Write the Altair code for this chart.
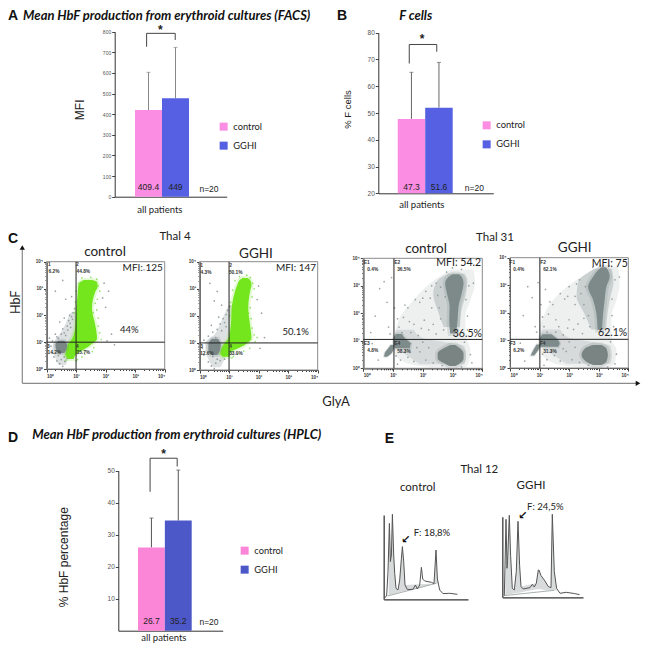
import math
import altair as alt
import pandas as pd

W, H = 634, 635
GROUPS = ["control", "GGHI"]

# ---------- bar panels ----------
A_MEANS = [420, 477]
A_ERR = [603, 724]
A_LABELS = ["409.4", "449"]
A_TICKS = [0, 100, 200, 300, 400, 500, 600, 700, 800]
A_BRACKET_X = [0.43, 0.43, 1.49, 1.49]
A_BRACKET_Y = [727, 792, 792, 760]

B_MEANS = [47.8, 52]
B_ERR = [65.2, 68.9]
B_LABELS = ["47.3", "51.6"]
B_TICKS = [20, 30, 40, 50, 60, 70, 80]
B_BRACKET_X = [0.42, 0.42, 1.42, 1.42]
B_BRACKET_Y = [68.5, 75.6, 75.6, 72.9]

D_MEANS = [26, 34.4]
D_ERR = [35.2, 50.2]
D_LABELS = ["26.7", "35.2"]
D_TICKS = [10, 20, 30, 40, 50]
D_BRACKET_X = [0.45, 0.45, 1.46, 1.46]
D_BRACKET_Y = [43.4, 53.9, 53.9, 51.3]

# ---------- flow cytometry panels: decades of fluorescence (log10) ----------
# blobs: y, left, right
C1_GREEN = [(0.37,.73,.92),(.52,.64,.98),(.89,.70,1.48),(1.14,.87,1.71),(1.64,.98,1.65),(2.26,1.01,1.54),(2.88,1.06,1.65),(3.07,1.07,1.73),(3.25,1.15,1.71),(3.32,1.26,1.54)]
C1_HAZE = [(.15,.4,.65),(.4,.3,.75),(.7,.2,.85),(1.0,.25,.95),(1.3,.45,1.0),(1.7,.65,1.0),(2.1,.80,1.0)]
C1_CORE = [(.6,.42,.6),(.75,.32,.68),(.9,.3,.7),(1.05,.4,.6)]
C1_GRAY = [(.3,1.3),(.35,1.2),(.55,1.5),(.6,1.35),(.7,1.6),(.75,1.8),(.8,1.7),(.85,1.95),(.9,2.1),(.88,1.85),(.72,1.45),(.95,2.25),(.78,2.0),(.82,1.55),(.65,1.25),(.5,1.3),(.4,1.15),(.2,1.05),(.15,.85),(.2,.6),(.25,.45),(.35,.3),(.45,.2),(.5,.35),(.55,.1),(.62,.28),(.4,.5),(.6,.45),(.7,.4),(.1,1.15),(.65,2.6),(.3,2.9),(.55,3.3),(.85,2.7),(.6,1.9),(.45,1.75),(2.1,2.9),(2.0,2.3),(2.2,1.3),(2.05,1.05),(1.9,2.65),(1.95,3.2),(3.3,3.7),(2.3,.9)]
C1_FRINGE = [(1.75,3.1),(1.8,2.9),(1.72,2.6),(1.7,2.2),(1.65,2.45),(1.75,1.6),(1.8,1.35),(1.85,1.1),(1.6,.8),(1.1,3.2),(1.0,2.9),(.98,2.5),(.95,2.1),(1.05,.35),(.65,.32),(1.55,.65),(1.3,.55),(1.2,.45),(1.0,.3),(1.2,3.4),(1.5,3.42),(1.7,3.35),(1.62,2.95),(1.58,2.1),(1.75,1.9)]

C2_GREEN = [(.49,.79,1.01),(.62,.70,1.03),(.93,.81,1.54),(1.17,.98,1.76),(1.67,1.06,1.71),(2.28,1.09,1.65),(2.90,1.20,1.71),(3.15,1.28,1.76),(3.33,1.37,1.71),(3.4,1.46,1.62)]
C2_HAZE = [(.1,.45,.7),(.4,.3,.85),(.7,.2,.95),(1.0,.2,1.0),(1.3,.5,1.05),(1.7,.7,1.05),(2.2,.9,1.1),(2.4,1.0,1.15)]
C2_CORE = [(.55,.4,.6),(.75,.3,.7),(.95,.3,.72),(1.15,.42,.62)]
C2_GRAY = [(.3,1.25),(.45,1.4),(.6,1.5),(.7,1.7),(.8,1.9),(.9,2.05),(.95,2.2),(1.02,2.35),(.85,1.75),(.75,1.45),(.55,1.2),(.15,1.1),(.1,.8),(.15,.55),(.3,.3),(.4,.15),(.5,.05),(.55,.25),(.6,.4),(.7,.35),(.85,.4),(.45,.5),(.75,2.4),(.6,2.9),(.5,2.55),(.35,3.2),(2.0,3.1),(2.1,2.1),(2.2,1.2),(1.95,2.6),(2.05,.8),(.9,1.6),(.65,1.95),(.4,1.65)]
C2_FRINGE = [(1.8,3.2),(1.85,3.0),(1.78,2.7),(1.72,2.3),(1.75,1.9),(1.78,1.55),(1.85,1.3),(1.88,1.05),(1.7,.8),(1.2,3.3),(1.12,2.95),(1.05,2.5),(1.02,2.0),(1.1,.45),(.65,.6),(1.5,.7),(1.3,.6),(1.15,.5),(1.35,3.45),(1.6,3.5),(1.72,3.42),(1.68,2.9),(1.66,2.1),(1.95,1.2)]

C3_HAZE = [(.04,2.25,3.43),(.18,1.46,3.54),(.67,1.0,3.6),(1.05,1.03,3.48),(1.27,1.07,3.43),(1.88,1.24,3.43),(2.48,1.69,3.6),(3.09,2.25,3.76),(3.58,2.92,3.7)]
C3_MID = [(.15,1.9,3.4),(.45,1.5,3.45),(.8,1.05,3.4),(1.1,1.05,2.0),(1.4,1.1,1.7)]
C3_WEDGE = [(1.5,2.7,3.25),(2.1,2.5,3.3),(2.7,2.35,3.45),(3.2,2.5,3.5),(3.45,2.85,3.4)]
C3_TOP = [(1.27,2.92,3.12),(1.76,2.89,3.17),(2.24,2.90,3.20),(2.73,2.81,3.31),(3.09,2.75,3.37),(3.33,2.87,3.31),(3.42,3.0,3.2)]
C3_LOW = [(.08,2.9,3.1),(.18,2.72,3.25),(.36,2.50,3.37),(.55,2.50,3.37),(.73,2.70,3.25),(.85,2.92,3.10)]
C3_LEFT = [(.73,1.07,1.57),(.9,1.02,1.58),(1.09,1.02,1.4),(1.25,1.1,1.3)]
C3_DIAG = [(.42,.7,.8),(.55,.72,.95),(.7,.82,1.02),(.85,.92,1.05)]
C3_PTS = [(1.2,1.5),(1.35,1.85),(1.5,2.2),(1.7,1.6),(1.9,2.4),(2.1,2.8),(2.3,2.2),(2.45,3.1),(2.5,2.65),(2.6,1.8),(2.2,1.4),(1.6,1.3),(1.85,1.2),(2.05,1.75),(2.35,1.6),(2.55,2.2),(2.7,1.4),(2.75,2.6),(2.3,3.0),(2.0,2.55),(1.75,2.5),(1.4,2.3),(1.15,1.8),(1.3,1.3),(1.5,.4),(1.7,.25),(1.9,.6),(2.1,.3),(2.2,.75),(1.4,.6),(1.25,.3),(1.1,.45),(2.35,.2),(2.0,.95),(1.6,.9),(1.8,.75),(3.5,1.4),(3.45,2.5),(3.55,3.0),(3.6,.5),(3.65,.2),(3.4,.95),(3.5,1.9),(3.7,3.1),(.8,2.4),(.55,2.9),(.85,1.5),(.4,1.9),(.9,1.25),(.7,3.15),(.95,3.3),(2.8,3.5),(3.0,3.65),(3.3,3.6),(1.05,2.2),(1.15,.15),(.3,.9),(.5,.3),(.25,1.3),(2.65,.1),(3.3,.05),(2.45,1.25),(1.95,1.45),(1.55,1.7),(2.25,2.55),(2.6,2.95)]

C4_HAZE = [(.02,2.3,3.31),(.17,1.46,3.54),(.65,1.01,3.6),(1.04,.96,3.43),(1.86,1.12,3.43),(2.47,1.46,3.6),(3.07,2.08,3.71),(3.67,2.98,3.65)]
C4_MID = [(.15,1.9,3.4),(.45,1.5,3.45),(.8,1.05,3.4),(1.1,1.0,2.0),(1.4,1.1,1.7)]
C4_WEDGE = [(1.4,2.75,3.25),(2.0,2.5,3.3),(2.6,2.25,3.4),(3.1,2.3,3.5),(3.6,2.85,3.45)]
C4_TOP = [(1.38,2.96,3.11),(1.98,2.92,3.15),(2.47,2.81,3.20),(2.95,2.64,3.26),(3.31,2.81,3.37),(3.55,2.98,3.31),(3.65,3.08,3.25)]
C4_LOW = [(.11,2.81,3.09),(.23,2.58,3.26),(.47,2.42,3.31),(.71,2.53,3.26),(.83,2.81,3.09)]
C4_LEFT = [(.77,1.01,1.63),(.9,1.01,1.68),(1.04,1.01,1.6),(1.22,1.1,1.4)]
C4_DIAG = [(.45,.7,.82),(.53,.73,.87),(.65,.79,.96),(.85,.9,1.02)]
C4_PTS = [(1.15,1.5),(1.3,1.95),(1.45,2.3),(1.65,1.5),(1.85,2.5),(2.0,2.95),(2.2,2.3),(2.35,3.2),(2.4,2.7),(2.5,1.8),(2.15,1.4),(1.55,1.3),(1.8,1.2),(2.0,1.75),(2.3,1.6),(2.5,2.3),(2.7,1.5),(2.65,1.9),(2.25,3.05),(1.95,2.6),(1.7,2.7),(1.35,2.4),(1.1,1.85),(1.25,1.3),(1.5,.45),(1.7,.25),(1.9,.6),(2.1,.3),(2.2,.75),(1.4,.6),(1.25,.3),(1.1,.5),(2.35,.2),(2.0,.95),(1.6,.9),(1.8,.7),(3.5,1.5),(3.45,2.5),(3.55,3.2),(3.6,.5),(3.55,.15),(3.4,.95),(3.45,1.9),(3.7,3.3),(.75,2.55),(.6,2.95),(.85,1.5),(.45,1.9),(.9,1.3),(.95,3.1),(2.8,3.65),(3.05,3.72),(3.35,3.7),(1.05,2.3),(1.15,.1),(.35,.9),(.5,.25),(2.65,.1),(3.3,.03),(2.45,1.25),(1.95,1.45),(1.55,1.75),(2.2,2.6),(2.55,2.95),(1.2,2.85)]

# ---------- HPLC chromatograms: retention, absorbance ----------
E1_TRACE = [(1.7,1.7),(3,4.3),(4.3,27.7),(5.7,76),(6.7,37.7),(7.7,44.3),(8.7,85),(10,44.3),(11,26),(12.3,11),(14.3,9.3),(16,19.3),(17.7,41),(18.7,52.7),(20,37.7),(21.3,14.3),(23.7,9.7),(29.3,10),(31.7,14.3),(33.7,10.3),(36,14.3),(37.7,32),(39,20.3),(41,18.3),(47.7,17),(50.3,15.7),(52.3,49.3),(53.7,20.3),(56,9.3),(59.3,5.7),(66,6),(73.7,5)]
E1_BASE = [(3.7,3.3),(52.7,16)]
E1_SHADE = [(5,50,4),(5.7,76,4),(6.7,37.7,4.5),(7.7,44,5),(8.7,85,5),(10,44,5),(11,26,5.5),(12.3,11,6),(14.3,9.3,6.5),(16,19,7),(17.7,41,7.5),(18.7,52.7,7.7),(20,37.7,8),(21.3,14.3,8.3),(50.3,15.7,15.4),(52.3,49,16),(53.7,20.3,16),(55,12,12)]
E2_TRACE = [(2,1.7),(2.7,32),(3.7,78),(4.7,29),(5.3,37),(7,82),(8.3,42),(10,9),(12,7.3),(14,25.7),(15.7,76),(17.3,32),(18.7,10.7),(21,8.3),(27.7,9.7),(30,13),(32,10.3),(34,14),(36,27.3),(36.7,27.3),(38.7,21.7),(42.7,16.3),(46,10.7),(48.7,9.7),(50,83),(52,25.7),(54.3,9),(57.7,4),(64,5),(72.3,3.7),(77.3,2.7)]
E2_BASE = [(2,1.7),(52,7)]
E2_SHADE = [(3,50,2),(3.7,78,2),(4.7,29,2.5),(5.3,37,2.5),(7,82,3),(8.3,42,3),(10,9,3.5),(12,7.3,4),(14,25.7,4),(15.7,76,4.5),(17.3,32,4.5),(18.7,10.7,5),(34,14,8),(36,27.3,8),(38.7,21.7,8),(42.7,16.3,7),(46,10.7,7),(48.7,9.7,7),(50,83,7),(52,25.7,7),(54.3,9,6.5)]

ONE = pd.DataFrame({"k": [0]})
LATO = "Lato"
ARIAL = "Liberation Sans"
layers = []


def text(s, x, y, size=9.0, font=LATO, weight="normal", style="normal", color="#222", angle=0, align="center"):
    layers.append(
        alt.Chart(ONE)
        .mark_text(text=s, fontSize=size, font=font, fontWeight=weight, fontStyle=style, color=color,
                   angle=angle, align=align, baseline="middle")
        .encode(x=alt.value(x - 8), y=alt.value(y - 8))
    )


def bar_panel(means, errs, labels, ticks, bx, by, dom, ax_x, ax_r, y_px, bars, pink, blue, tick_size,
              y_title, y_title_size, y_title_pos, xt_pos, lab_y, err_color, legend_xy):
    step = (bars[1] - bars[0]) / 2
    sx = alt.Scale(type="band", domain=GROUPS, range=[bars[0] - 8, bars[1] - 8], paddingInner=0, paddingOuter=0)
    sy = alt.Scale(domain=dom, range=[y_px[0] - 8, y_px[1] - 8], nice=False, zero=False)
    df = pd.DataFrame({"g": GROUPS, "m": means, "e": errs, "t": labels, "b": [dom[0]] * 2})
    x_axis = alt.Axis(orient="bottom", offset=y_px[0] - 8 - H, ticks=False, labels=False, domainColor="#333", domainWidth=1,
                      grid=False, title="all patients", titleFont=LATO, titleFontSize=9.5, titleFontWeight="normal",
                      titleColor="#222", titleX=xt_pos[0] - 8, titleY=xt_pos[1] - y_px[0], titleBaseline="middle", titleAlign="center")
    y_axis = alt.Axis(orient="left", offset=-(ax_x - 8), values=ticks, tickSize=3, tickColor="#444", domainColor="#333", domainWidth=1,
                      grid=False, labelFont=ARIAL, labelFontSize=tick_size, labelColor="#555", labelPadding=1,
                      title=y_title, titleFont=ARIAL, titleFontSize=y_title_size, titleFontWeight="normal", titleColor="#222",
                      titleAngle=270, titleX=y_title_pos[0] - ax_x, titleY=y_title_pos[1] - 8, titleBaseline="middle", titleAlign="center")
    legend = alt.Legend(orient="none", legendX=legend_xy[0] - 8, legendY=legend_xy[1] - 8, title=None, symbolType="square",
                        symbolSize=64, symbolStrokeWidth=0, labelFont=LATO, labelFontSize=9.3, labelColor="#222",
                        labelOffset=5, rowPadding=9, padding=0)
    layers.append(alt.Chart(df).mark_rule(color=err_color, strokeWidth=1).encode(
        x=alt.X("g:N", scale=sx, axis=None), y=alt.Y("m:Q", scale=sy, axis=None), y2="e:Q"))
    layers.append(alt.Chart(df).mark_tick(color=err_color, size=4, thickness=1, orient="horizontal").encode(
        x=alt.X("g:N", scale=sx, axis=None), y=alt.Y("e:Q", scale=sy, axis=None)))
    layers.append(alt.Chart(df).mark_bar().encode(
        x=alt.X("g:N", scale=sx, axis=None, sort=GROUPS), y=alt.Y("m:Q", scale=sy, axis=y_axis), y2="b:Q",
        color=alt.Color("g:N", scale=alt.Scale(domain=GROUPS, range=[pink, blue]), legend=legend)))
    layers.append(alt.Chart(df).mark_text(font=ARIAL, fontSize=8.5, color="#222", baseline="middle").encode(
        x=alt.X("g:N", scale=sx, axis=None), y=alt.value(lab_y - 8), text="t:N"))
    br = pd.DataFrame({"x": bx, "y": by, "o": range(4)})
    sbx = alt.Scale(domain=[(ax_x - bars[0]) / step, (ax_r - bars[0]) / step], range=[ax_x - 8, ax_r - 8], nice=False, zero=False)
    layers.append(alt.Chart(br).mark_line(color="#444", strokeWidth=1).encode(
        x=alt.X("x:Q", scale=sbx, axis=x_axis), y=alt.Y("y:Q", scale=sy, axis=None), order="o:Q"))


def blob(rows, sx, sy, color, opacity=1.0, halo=0):
    df = pd.DataFrame(rows, columns=["y", "l", "r"])
    props = dict(orient="horizontal", color=color, opacity=opacity, interpolate="monotone")
    if halo:
        props.update(stroke=color, strokeWidth=halo, strokeOpacity=0.2)
    layers.append(alt.Chart(df).mark_area(**props).encode(
        y=alt.Y("y:Q", scale=sy, axis=None), x=alt.X("l:Q", scale=sx, axis=None), x2="r:Q"))


def dots(rows, sx, sy, color, size=3, opacity=0.85):
    df = pd.DataFrame(rows, columns=["x", "y"])
    layers.append(alt.Chart(df).mark_circle(color=color, size=size, opacity=opacity).encode(
        x=alt.X("x:Q", scale=sx, axis=None), y=alt.Y("y:Q", scale=sy, axis=None)))


MINOR = [n + math.log10(k) for n in range(4) for k in range(2, 10)]
POW = "['10⁰','10¹','10²','10³','10⁴'][datum.value]"


def facs_frame(xr, yr, gate_x, gate_y, sx, sy):
    box = pd.DataFrame({"a": [0], "b": [4], "c": [0], "d": [4], "g": [gate_x], "h": [gate_y]})
    ax_x = dict(orient="bottom", offset=yr[0] - 8 - H, grid=False, title=None, domainColor="#444", tickColor="#444")
    ax_y = dict(orient="left", offset=-(xr[0] - 8), grid=False, title=None, domainColor="#444", tickColor="#444")
    lab = dict(labelFont=ARIAL, labelFontSize=4.5, labelFontWeight="bold", labelColor="#333", labelPadding=1, labelExpr=POW, values=[0, 1, 2, 3, 4], tickSize=3)
    layers.append(alt.Chart(box).mark_rect(fill="transparent", stroke="#8a8a8a", strokeWidth=1).encode(
        x=alt.X("a:Q", scale=sx, axis=alt.Axis(**ax_x, **lab)), x2="b:Q",
        y=alt.Y("c:Q", scale=sy, axis=alt.Axis(**ax_y, **lab)), y2="d:Q"))
    layers.append(alt.Chart(box).mark_rect(opacity=0).encode(
        x=alt.X("a:Q", scale=sx, axis=alt.Axis(**ax_x, values=MINOR, tickSize=1.5, labels=False)), x2="b:Q",
        y=alt.Y("c:Q", scale=sy, axis=alt.Axis(**ax_y, values=MINOR, tickSize=1.5, labels=False)), y2="d:Q"))
    layers.append(alt.Chart(box).mark_rule(color="#222", strokeWidth=1).encode(
        x=alt.X("g:Q", scale=sx, axis=None), y=alt.Y("c:Q", scale=sy, axis=None), y2="d:Q"))
    layers.append(alt.Chart(box).mark_rule(color="#222", strokeWidth=1).encode(
        y=alt.Y("h:Q", scale=sy, axis=None), x=alt.X("a:Q", scale=sx, axis=None), x2="b:Q"))


def scales(xr, yr):
    return (alt.Scale(domain=[0, 4], range=[xr[0] - 8, xr[1] - 8], nice=False, zero=False),
            alt.Scale(domain=[0, 4], range=[yr[0] - 8, yr[1] - 8], nice=False, zero=False))


def green_panel(xr, yr, gate, green, haze, core, gray, fringe):
    sx, sy = scales(xr, yr)
    blob(haze, sx, sy, "#b4bcbc", 0.45)
    dots(gray, sx, sy, "#8b9494")
    dots(fringe, sx, sy, "#86dc5c")
    blob(green, sx, sy, "#74e61e", 1.0, 4)
    blob(core, sx, sy, "#7b8686", 1.0, 4)
    facs_frame(xr, yr, gate[0], gate[1], sx, sy)


def gray_panel(xr, yr, gate, haze, mid, wedge, top, low, left, diag, pts):
    sx, sy = scales(xr, yr)
    blob(haze, sx, sy, "#c6cccc", 0.3)
    blob(mid, sx, sy, "#a9b2b2", 0.35)
    blob(wedge, sx, sy, "#a0aaaa", 0.45)
    dots(pts, sx, sy, "#8d9696")
    blob(top, sx, sy, "#7a8787", 0.95, 5)
    blob(low, sx, sy, "#75807f", 0.95, 5)
    blob(left, sx, sy, "#7a8787", 0.95, 3)
    blob(diag, sx, sy, "#7a8787", 0.95, 2)
    facs_frame(xr, yr, gate[0], gate[1], sx, sy)


def chromatogram(trace, base, shade, xr, yr):
    span = xr[1] - xr[0]
    sx = alt.Scale(domain=[0, span], range=[xr[0] - 8, xr[1] - 8], nice=False, zero=False)
    sy = alt.Scale(domain=[0, yr[0] - yr[1]], range=[yr[0] - 8, yr[1] - 8], nice=False, zero=False)
    sh = pd.DataFrame(shade, columns=["x", "t", "b"])
    layers.append(alt.Chart(sh).mark_area(color="#d8dbdb").encode(
        x=alt.X("x:Q", scale=sx, axis=None), y=alt.Y("t:Q", scale=sy, axis=None), y2="b:Q"))
    bs = pd.DataFrame(base, columns=["x", "y"])
    layers.append(alt.Chart(bs).mark_line(color="#aab0b0", strokeWidth=1).encode(
        x=alt.X("x:Q", scale=sx, axis=None), y=alt.Y("y:Q", scale=sy, axis=None)))
    tr = pd.DataFrame(trace, columns=["x", "y"])
    ax_x = alt.Axis(orient="bottom", offset=yr[0] - 8 - H, ticks=False, labels=False, grid=False, title=None, domainColor="#333", domainWidth=1.2)
    ax_y = alt.Axis(orient="left", offset=-(xr[0] - 8), ticks=False, labels=False, grid=False, title=None, domainColor="#555", domainWidth=1.5)
    layers.append(alt.Chart(tr).mark_line(color="#555", strokeWidth=1).encode(
        x=alt.X("x:Q", scale=sx, axis=ax_x), y=alt.Y("y:Q", scale=sy, axis=ax_y)))


# ---------- panels ----------
bar_panel(A_MEANS, A_ERR, A_LABELS, A_TICKS, A_BRACKET_X, A_BRACKET_Y, [0, 800], 114.7, 226.7, (196.7, 31.7), (135, 189),
          "#fb8ee2", "#5560e2", 5, "MFI", 12, (79.3, 109.3), (159.3, 209), 187.3, "#888", (219, 122))
bar_panel(B_MEANS, B_ERR, B_LABELS, B_TICKS, B_BRACKET_X, B_BRACKET_Y, [20, 80], 378.3, 493.3, (193.3, 32.7), (397.7, 452.7),
          "#fb8ee2", "#5560e2", 6.5, "% F cells", 9.5, (347.7, 109), (421.3, 204), 186.5, "#666", (482, 120.7))
bar_panel(D_MEANS, D_ERR, D_LABELS, D_TICKS, D_BRACKET_X, D_BRACKET_Y, [0, 50], 118.3, 222.7, (630.7, 470.7), (138, 191.7),
          "#fb86d8", "#4d58c8", 6.5, "% HbF percentage", 12, (63.3, 556.7), (163.3, 637.5), 620.5, "#555", (240, 546))

green_panel((46.5, 164.7), (369, 261.7), (1, 1), C1_GREEN, C1_HAZE, C1_CORE, C1_GRAY, C1_FRINGE)
green_panel((199.5, 317.7), (370, 261.7), (1, 1), C2_GREEN, C2_HAZE, C2_CORE, C2_GRAY, C2_FRINGE)
gray_panel((363.3, 482.3), (368.3, 258.3), (1.03, 1.05), C3_HAZE, C3_MID, C3_WEDGE, C3_TOP, C3_LOW, C3_LEFT, C3_DIAG, C3_PTS)
gray_panel((510, 628.3), (368, 257.7), (1.01, 1.04), C4_HAZE, C4_MID, C4_WEDGE, C4_TOP, C4_LOW, C4_LEFT, C4_DIAG, C4_PTS)

chromatogram(E1_TRACE, E1_BASE, E1_SHADE, (383.7, 468), (599.3, 515))
chromatogram(E2_TRACE, E2_BASE, E2_SHADE, (502.3, 583), (597.3, 516.7))

# C: large axes with arrowheads
layers.append(alt.Chart(ONE).mark_rule(color="#8a8a8a", strokeWidth=1.2).encode(
    x=alt.value(22.3 - 8), y=alt.value(248 - 8), y2=alt.value(383.3 - 8)))
layers.append(alt.Chart(ONE).mark_rule(color="#8a8a8a", strokeWidth=1.2).encode(
    x=alt.value(22.3 - 8), x2=alt.value(637 - 8), y=alt.value(383.3 - 8)))
layers.append(alt.Chart(ONE).mark_point(shape="triangle-up", filled=True, color="#111", size=28, opacity=1).encode(
    x=alt.value(22.3 - 8), y=alt.value(247.5 - 8)))
layers.append(alt.Chart(ONE).mark_point(shape="triangle-right", filled=True, color="#111", size=28, opacity=1).encode(
    x=alt.value(638 - 8), y=alt.value(383.3 - 8)))

# ---------- text ----------
T = dict(font=LATO, weight="bold", style="italic", color="#111")
text("A", 8, 16, 14, ARIAL, "bold", align="left", color="#111")
text("B", 342, 16, 14, ARIAL, "bold", color="#111")
text("C", 8, 239, 14, ARIAL, "bold", align="left", color="#111")
text("D", 8, 438, 14, ARIAL, "bold", align="left", color="#111")
text("E", 389.3, 439.3, 14, ARIAL, "bold", color="#111")
text("Mean HbF production from erythroid cultures (FACS)", 166.7, 15.5, 13, **T)
text("F cells", 415.7, 15.5, 13, **T)
text("Mean HbF production from erythroid cultures (HPLC)", 176.7, 435, 13, **T)
for s, x, y in [("*", 160.3, 30), ("*", 422, 39), ("*", 163.7, 454)]:
    text(s, x, y, 12, ARIAL, "bold", color="#222")
for s, x, y in [("n=20", 209, 188.7), ("n=20", 474.3, 187.7), ("n=20", 209, 622)]:
    text(s, x, y, 8.5, ARIAL)

for s, x, y, z in [("Thal 4", 175, 237.3, 11.5), ("control", 105, 252.3, 13.5), ("GGHI", 256, 253.7, 13.5),
                   ("Thal 31", 495, 237.7, 11.5), ("control", 426, 249.3, 13.5), ("GGHI", 574.7, 247.7, 13.5),
                   ("MFI: 125", 142.7, 267.7, 10), ("44%", 129.3, 330.3, 9.5), ("MFI: 147", 296, 267.7, 10), ("50.1%", 295.7, 331.7, 9.5),
                   ("MFI: 54.2", 458.7, 263.3, 10.5), ("36.5%", 467.3, 333.7, 10.5), ("MFI: 75", 609.7, 264, 10.5), ("62.1%", 612.7, 333, 10.5),
                   ("GlyA", 336, 401.7, 13),
                   ("Thal 12", 479.3, 470, 11.5), ("control", 417.7, 487.7, 11.5), ("GGHI", 531, 485.7, 11.5),
                   ("F: 18,8%", 432, 532.7, 9.5), ("F: 24,5%", 545.3, 506.7, 9.5)]:
    text(s, x, y, z)
text("HbF", 15.5, 302.3, 12.5, angle=270)
text("↙", 405.5, 539.5, 11, "DejaVu Sans", "bold", color="#111")
text("↙", 522.7, 515.5, 11, "DejaVu Sans", "bold", color="#111")

QUAD = [("1", 49.3, 265), ("6.2%", 54, 272.3), ("2", 77.3, 265), ("44.8%", 83.3, 272.3), ("3", 48.3, 347), ("14.2%", 54.3, 353.3), ("4", 77.3, 347), ("35.7%", 83.3, 353.3),
        ("1", 201.5, 265.7), ("4.3%", 206, 272.7), ("2", 230.7, 265.7), ("50.1%", 235.7, 272.7), ("3", 201.5, 347.3), ("12.6%", 207, 354), ("4", 230.7, 347.3), ("33.0%", 236, 354),
        ("E1", 366.7, 262.7), ("0.4%", 372.7, 270), ("E2", 397.3, 262.7), ("36.5%", 404, 270), ("E3", 366.7, 344), ("4.8%", 372.7, 351.3), ("E4", 397.3, 344), ("58.3%", 404, 352),
        ("F1", 512.3, 262.7), ("0.4%", 518.7, 270), ("F2", 543, 262.7), ("62.1%", 550, 270), ("F3", 512.7, 344), ("6.2%", 518.7, 351), ("F4", 542.7, 344), ("31.3%", 550, 352)]
for s, x, y in QUAD:
    text(s, x, y, 4.8, ARIAL, "bold", color="#333")

chart = (
    alt.layer(*layers)
    .resolve_scale(x="independent", y="independent", color="independent")
    .properties(width=W, height=H, padding=0, background="white", autosize=alt.AutoSizeParams(type="none"))
    .configure_view(stroke=None)
)
chart.save("out.html", embed_options={"renderer": "svg", "actions": False})
